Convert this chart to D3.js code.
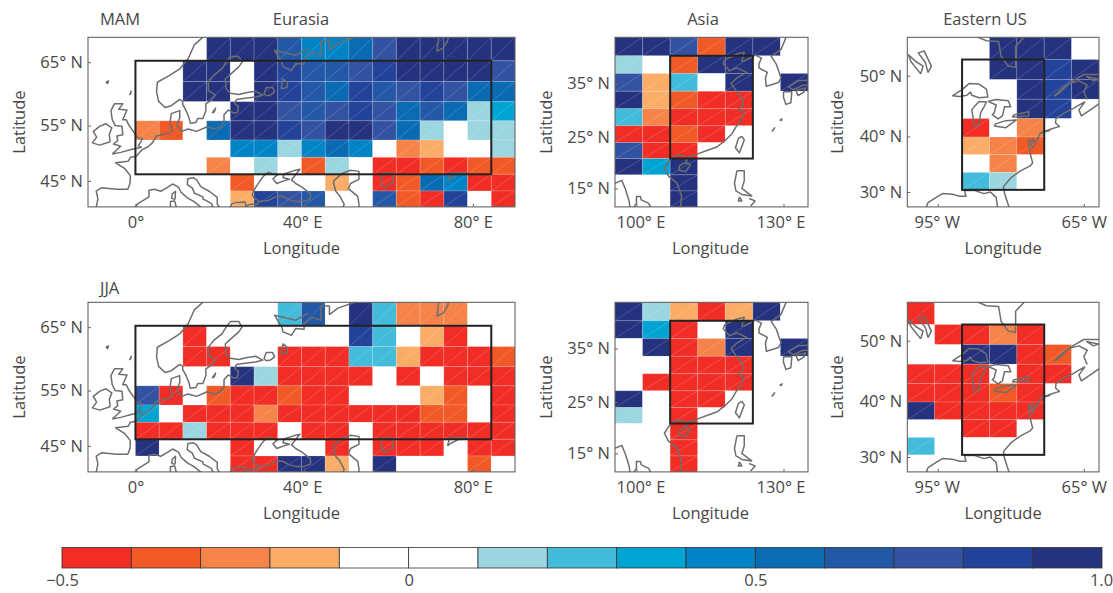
<!DOCTYPE html>
<html>
<head>
<meta charset="utf-8">
<script src="https://cdnjs.cloudflare.com/ajax/libs/d3/7.8.5/d3.min.js"></script>
<style>
  html, body { margin: 0; padding: 0; background: #fff; }
  text { font-family: "Open Sans", sans-serif; font-weight: 400; fill: #484848; font-size: 16.5px; }
  .tick line { stroke: #666; }
  .coast { fill: none; stroke: #6e6e6e; stroke-width: 1.5; stroke-linejoin: round; }
  .box { fill: none; stroke: #222; stroke-width: 2; }
  .frame { fill: none; stroke: #555; stroke-width: 1; }
  .sheen { fill: none; stroke: #fff; stroke-opacity: 0.24; stroke-width: 0.7; }
</style>
</head>
<body>
<div id="chart"></div>
<script>
// colour bins, one per 0.1 from -0.5 to 1.0
var binEdges = [-0.4, -0.3, -0.2, -0.1, 0, 0.1, 0.2, 0.3, 0.4, 0.5, 0.6, 0.7, 0.8, 0.9];
var binColours = ['#f12d26', '#f15a27', '#f68349', '#fbad68', '#ffffff', '#ffffff', '#9cd6e0', '#43bbda',
    '#00a4d3', '#0084c6', '#0a6bb3', '#2358a6', '#3353a2', '#23439b', '#25337f'];
var barTicks = [-0.5, 0, 0.5, 1.0];

// model grid
var lonStep = 5.625;
var latEdges = [68.5, 65.2, 62.1, 58.95, 55.8, 52.5, 49.4, 46.25, 43.05, 39.9, 36.8, 33.6, 30.4, 27.2, 24, 20.9, 17.7, 14.5, 11.3];

// rows run north to south, columns west to east
var eurasiaMam = [
    [0, 0, 0, 0, 0, .95, .95, .95, .65, .45, .45, .55, .75, .95, .95, .95, .95, .95],
    [0, 0, 0, 0, .95, .95, 0, .95, .85, .65, .65, .75, .85, .95, .95, .95, .95, .75],
    [0, 0, 0, 0, .95, .95, 0, .95, .85, .65, .55, .85, .65, .75, .85, .75, .55, .55],
    [0, 0, 0, 0, 0, 0, .95, .95, .75, .65, .75, .85, .75, .55, .65, .55, .15, .35],
    [0, 0, -.25, -.35, 0, .55, .95, .95, .85, .75, .95, .95, .75, .55, .15, 0, .15, .15],
    [0, 0, 0, 0, 0, 0, .45, .45, .15, .45, .55, .45, 0, -.25, -.15, 0, 0, .15],
    [0, 0, 0, 0, 0, -.25, 0, .15, 0, -.35, .15, 0, -.45, -.45, -.35, -.45, -.35, -.35],
    [0, 0, 0, 0, 0, 0, -.35, 0, 0, 0, -.15, 0, -.45, -.35, .55, .45, -.45, -.45],
    [0, 0, 0, 0, 0, 0, -.15, .85, .75, .65, 0, 0, .65, -.35, -.45, .85, 0, -.45]
];
var eurasiaJja = [
    [0, 0, 0, 0, 0, 0, 0, 0, .25, .65, 0, .95, .25, -.25, -.25, -.25, 0, 0],
    [0, 0, 0, 0, -.45, 0, 0, 0, 0, 0, 0, .85, .25, 0, -.15, -.45, 0, 0],
    [0, 0, 0, 0, -.45, -.45, 0, 0, -.45, -.45, -.45, .25, .25, -.15, -.45, -.45, -.45, -.35],
    [0, 0, 0, 0, 0, 0, .95, .15, -.45, -.45, -.45, -.45, 0, -.45, 0, -.45, -.45, -.45],
    [0, 0, .75, -.45, 0, -.35, -.45, -.45, -.35, -.45, -.45, 0, 0, 0, -.15, -.35, 0, -.45],
    [0, 0, .35, 0, -.45, -.45, -.45, -.25, -.45, -.45, -.45, -.45, -.45, -.45, -.35, -.35, 0, -.45],
    [0, 0, -.45, -.45, .15, -.45, -.45, -.45, 0, -.45, -.45, 0, -.45, -.45, -.45, -.45, -.45, -.45],
    [0, 0, .95, 0, 0, 0, -.45, 0, 0, 0, -.45, 0, -.45, -.45, -.45, 0, -.45, -.45],
    [0, 0, 0, 0, 0, 0, -.45, -.45, .95, .95, -.15, 0, .95, 0, 0, 0, -.35, 0]
];
var asiaMam = [
    [.95, .95, .75, -.35, .95, .95, 0],
    [.15, 0, -.35, .95, .95, 0, 0],
    [.75, -.15, .25, 0, .95, 0, .95],
    [.95, -.15, -.35, -.45, -.45, 0, 0],
    [.25, -.25, -.45, -.45, -.45, 0, 0],
    [-.45, -.45, -.35, -.45, 0, 0, 0],
    [.75, -.45, -.45, 0, 0, 0, 0],
    [.95, .35, .95, 0, 0, 0, 0],
    [0, 0, .95, 0, 0, 0, 0],
    [0, 0, .95, 0, 0, 0, 0]
];
var asiaJja = [
    [.95, .15, -.15, -.45, -.15, .95, 0],
    [.95, .35, -.45, 0, .95, 0, 0],
    [0, .95, -.45, -.25, .95, 0, .95],
    [0, 0, -.45, -.45, -.45, 0, 0],
    [0, -.45, -.45, -.45, -.45, 0, 0],
    [.95, 0, -.45, -.45, 0, 0, 0],
    [.15, 0, -.45, 0, 0, 0, 0],
    [0, 0, -.45, 0, 0, 0, 0],
    [0, 0, -.45, 0, 0, 0, 0],
    [0, 0, -.45, 0, 0, 0, 0]
];
var usMam = [
    [0, 0, 0, .95, .95, .95, 0],
    [0, 0, 0, .95, .95, .85, .95],
    [0, 0, 0, 0, .95, .85, .95],
    [0, 0, 0, 0, .95, .85, 0],
    [0, 0, -.45, 0, -.25, 0, 0],
    [0, 0, -.15, -.25, -.35, 0, 0],
    [0, 0, 0, -.25, 0, 0, 0],
    [0, 0, .25, .15, 0, 0, 0],
    [0, 0, 0, 0, 0, 0, 0]
];
var usJja = [
    [-.45, 0, 0, 0, 0, 0, 0],
    [0, -.45, -.45, -.25, -.45, 0, 0],
    [0, 0, .95, .95, -.45, -.35, 0],
    [-.45, -.45, -.45, 0, -.45, -.45, 0],
    [-.45, -.45, -.45, -.35, -.45, 0, 0],
    [.95, -.45, -.45, -.45, -.45, 0, 0],
    [0, 0, -.45, -.45, 0, 0, 0],
    [.25, 0, 0, 0, 0, 0, 0],
    [0, 0, 0, 0, 0, 0, 0]
];

// coastlines, [lon, lat]
var eurasiaCoast = [
    [[17,69],[14,67.5],[12.5,65.5],[10.5,64],[8,63],[5.2,62],[5,60.5],[5.5,59],[7,58],[8.5,58.3],[10.5,59.3],[11.2,59],[11.2,58.5],[12,57.5],[12.7,56.3],[13,55.4],[14.3,55.5],[14.8,56.2],[16,56.2],[16.7,57.5],[16.7,58.6],[18,59.2],[19,60],[17.3,60.7],[17.3,62],[18.5,63],[20.5,64],[21.5,65],[22.5,65.8],[24.5,65.8],[25.3,65],[24.5,64.3],[22.5,63.2],[21.3,62.5],[21.5,61],[22.5,60.3],[24.5,60.1],[26.5,60.4],[28.5,60.6],[30.2,60],[28.5,59.7],[26,59.5],[24,59.3],[23.5,58.7],[24.4,58.2],[24.2,57.2],[23.2,57.1],[22,57.6],[21,56.8],[21,55.5],[20,54.7],[18.7,54.4],[17,54.8],[14.5,54],[12.5,54.4],[11,54],[10.5,54.5],[9.8,55],[10.5,56.3],[10.5,57.5],[8.5,57],[8.2,55.5],[8.8,54],[7,53.5],[5,53.2],[4,52],[3,51.3],[1.6,50.8],[0.2,49.6],[-1.2,49.4],[-1.7,48.7],[-4.7,48.4],[-2.5,47.3],[-1.2,46],[-1.3,44.5],[-1.8,43.4],[-4.5,43.4],[-8,43.7],[-9.3,43],[-8.9,41.5],[-9.5,39]],
    [[-0.3,39.5],[0.5,40.5],[3.2,41.9],[3.2,43.2],[4.5,43.4],[6,43],[7.5,43.7],[8.8,44.4],[10.2,43.8],[10.8,42.8],[12.3,41.7],[13.8,41],[15,40.2],[16,39.5]],
    [[18.4,39.8],[18,40.6],[16,41.5],[16,41.9],[14,42.6],[13.5,43.6],[12.3,44.3],[12.4,45.4],[13.7,45.6],[14.5,45.2],[15.5,43.9],[17.5,43],[19.4,41.8],[19.4,40.5],[20,39.7]],
    [[22.5,39.8],[22.8,40.5],[24,40.8],[26,40.9],[26.2,40],[27,40.4],[29,40.5],[29,41],[31.5,41.2],[33.5,42],[35,42],[36.5,41.3],[38,41],[40,41],[41.5,41.5],[41.5,42.5],[39.5,43.8],[38,44.5],[37,45.2],[38,46.2],[39,47.2],[37.5,46.9],[35.2,46.3],[35,45.6],[36.5,45.3],[35.5,45.1],[33.5,44.5],[32.6,45.4],[33.6,46.1],[31.5,46.6],[30.5,46],[29.7,45.2],[28.7,44],[28,43],[27.7,42.4],[28.2,41.6],[29,41.2]],
    [[53,39.5],[53,40.5],[52.7,42],[50.5,43.5],[51,44.5],[53,45.3],[53,46.8],[51,47],[49,46.4],[47,45],[47,44.5],[47.5,43],[48.5,42],[49.5,40.4],[49,39.5]],
    [[58.5,46.5],[61,46.5],[61,44.7],[59,43.7],[58.3,44.5],[58.5,46.5]],
    [[74,45],[74.5,46.5],[77,46.6],[79,46.4],[76.5,46.2],[74.8,45.5],[74,45]],
    [[41,67],[38,66],[33,66.7],[34.7,65],[35,64.3],[37,63.8],[38,64.8],[40,64.7],[40,65.5],[42,66.4],[44,66],[44,68],[46,68],[46,66.8],[48,67.7],[53,68.7]],
    [[72,69],[71.5,66.6],[73,67],[74,68],[74.5,69]],
    [[31,59.9],[30.5,60.2],[31,61.2],[32.5,61.2],[33,60.5],[32,60],[31,59.9]],
    [[34.5,61],[35,62.5],[36,62],[36,61.2],[34.5,61]],
    [[-5.5,50],[-3.5,50.3],[-1,50.8],[1.4,51.2],[0.7,51.5],[1.7,52.7],[0.3,53],[-0.2,53.7],[-1.5,55],[-2.2,56],[-3,56],[-2,57.6],[-4,57.7],[-3,58.6],[-5,58.6],[-5.8,57.5],[-5.5,56],[-4.8,55],[-3.2,54.9],[-3,53.4],[-4.4,53.2],[-4.2,52.4],[-5.2,51.8],[-3.5,51.4],[-5.5,50]],
    [[-6,52.2],[-6.2,53.5],[-5.6,54.6],[-7,55.3],[-8.4,54.9],[-10,54],[-9.2,53],[-10.2,52],[-8.5,51.6],[-6,52.2]],
    [[-7,62],[-6.4,62.2],[-6.6,61.8],[-7,62]],
    [[-1.4,60],[-1,60.6],[-1.2,60.1]],
    [[9.4,41.4],[9.5,43],[8.7,42.4],[8.6,41.6],[9.4,41.4]],
    [[8.3,39.8],[8.3,41],[9.3,41.1],[9.7,39.8]],
    [[18.2,57.1],[19,57.9],[18.7,57.3],[18.2,57.1]]
];
var asiaCoast = [
    [[130.5,43],[129.5,41],[127.5,39.8],[128.5,38.5],[129.5,36],[129,35.2],[126.5,34.5],[126.3,36],[126.7,37],[125,37.8],[125,38.5],[125.5,39.5],[124.3,40],[122,39],[121.5,39],[122,40.5],[120.5,40.2],[118,39.2],[117.7,38.5],[119,37.3],[120.5,37.8],[122.5,37],[120.5,36],[119.3,35],[120.5,33.5],[121.8,32],[121.7,31],[120.8,30.3],[122,29.8],[121.5,28.5],[120.3,27],[119.5,25.7],[118,24.3],[116.5,23.2],[114.5,22.5],[112.5,21.8],[110.5,21.2],[110.2,20.3],[109.7,21.5],[108,21.5],[106.7,20.5],[105.7,19],[106.5,17.5],[108.3,16],[109.2,13.5],[109,11.3]],
    [[121.5,25.2],[122,24.5],[121,22],[120.2,23],[120.8,24.8],[121.5,25.2]],
    [[110.5,20],[111,19.6],[110,18.3],[108.7,18.6],[108.8,19.5],[109.7,20],[110.5,20]],
    [[120.5,18.5],[122,18.5],[122,16.5],[121.5,15],[123.5,13.5],[121.5,13.8],[120.3,14.5],[120,16],[120.5,18.5]],
    [[121,13.3],[121.5,12.5],[120.8,12.5],[121,13.3]],
    [[123,13],[124.2,12.5],[123.3,11.5]],
    [[95.6,16],[97,16.6],[97.7,15],[98.5,12.5],[98.7,11]],
    [[103,11],[102.5,12],[101,12.7],[100.8,13.4],[100,13.4],[100,12],[99.3,11]],
    [[135.5,35.6],[133,35.5],[131,34.4],[132,33.9],[134,34.7],[135.5,34.7]],
    [[130,33.5],[131.7,33.5],[131.5,31.5],[130.5,31.2],[130,32.5],[130,33.5]],
    [[132.5,33.8],[134.5,34.2],[134.2,33.5],[133,32.8],[132.5,33.8]],
    [[127.6,26.1],[128.2,26.8],[127.9,26.4],[127.6,26.1]],
    [[129.2,28.2],[129.7,28.5],[129.5,28.1]]
];
var usCoast = [
    [[-88,56.2],[-85,55.3],[-82.5,55.2],[-82,53],[-80.5,51.5],[-79,51.3],[-79,53],[-79,54.5],[-77,56]],
    [[-97,50.5],[-96.3,51.5],[-97.8,53.8],[-99,53.5],[-97.5,52],[-97,50.5]],
    [[-98.5,50.3],[-98,51.5],[-99.5,52.2],[-101,53.2],[-100.5,52.2],[-98.5,50.3]],
    [[-92,46.8],[-90,47.8],[-88.5,48.8],[-86.5,48.7],[-85,47.9],[-84.7,46.6],[-86.5,46.5],[-88,46.9],[-88.3,47.4],[-89,46.9],[-90.5,46.7],[-92,46.8]],
    [[-87.5,41.7],[-86.5,42],[-86.2,44],[-85.5,45],[-85,45.8],[-86.5,45.9],[-87.5,45],[-88,44.5],[-87.7,43],[-87.5,41.7]],
    [[-84.7,45.9],[-83,45.3],[-83.4,44],[-83.8,43.7],[-82.6,43],[-81.7,43.5],[-81.3,45],[-80,45],[-80.5,46],[-83,46.2],[-84.7,45.9]],
    [[-83.4,41.8],[-81,41.5],[-78.9,42.8],[-81,42.7],[-83,42.2],[-83.4,41.8]],
    [[-79.7,43.3],[-76.3,43.5],[-76.3,44.2],[-79.3,43.7],[-79.7,43.3]],
    [[-97.4,27],[-97,28],[-95,29.2],[-94,29.7],[-92,29.6],[-90.5,29.2],[-89.2,29.2],[-89.5,30.3],[-87.5,30.3],[-85.5,29.7],[-84.2,30],[-83,29],[-82.7,27]],
    [[-80.3,27],[-81.3,29.8],[-81.5,31],[-80,32.6],[-78,33.9],[-76,34.8],[-75.5,35.3],[-76,37],[-76.4,39.2],[-76,39.5],[-75.6,38],[-75.1,38.5],[-75.5,39.5],[-74.8,39],[-74,40.5],[-72,41.2],[-70.5,41.6],[-70,41.7],[-70.8,42.3],[-70.7,43.1],[-69,44],[-67,44.8],[-66.2,45.2],[-64.8,45.8],[-66,44.5],[-65.5,43.5],[-63.5,44.6],[-61.9,45.5]],
    [[-74,40.6],[-72,41],[-73.5,40.9]],
    [[-64.3,46.2],[-65,47.5],[-64.3,48.5],[-66,49.2],[-68,48.8],[-70,47.3],[-71,46.8],[-69,48.3],[-67,49.3],[-65,50.2],[-61.9,50.2]],
    [[-64.5,49.9],[-62,49.5],[-63,49.2],[-64.5,49.9]]
];

var width = 1113, height = 593;

var colour = d3.scaleThreshold().domain(binEdges).range(binColours);

// Miller projection, the maps are drawn on it
function miller(lat) {
    return 1.25 * Math.log(Math.tan(Math.PI / 4 + 0.4 * lat * Math.PI / 180));
}

var svg = d3.select('#chart').append('svg')
    .attr('width', width)
    .attr('height', height);

var defs = svg.append('defs');
var clipCount = 0;

function mapPanel(o) {
    var g = svg.append('g');
    var clipId = 'clip' + (clipCount++);

    var x = d3.scaleLinear().domain(o.lon).range([o.left, o.left + o.w]);
    var yM = d3.scaleLinear()
        .domain([miller(o.lat[0]), miller(o.lat[1])])
        .range([o.top + o.h, o.top]);
    var y = function(lat) { return yM(miller(lat)); };

    defs.append('clipPath').attr('id', clipId).append('rect')
        .attr('x', o.left).attr('y', o.top).attr('width', o.w).attr('height', o.h);

    var body = g.append('g').attr('clip-path', 'url(#' + clipId + ')');

    // grid cells
    o.values.forEach(function(row, r) {
        var top = latEdges[o.firstRow + r],
            bottom = latEdges[o.firstRow + r + 1];
        row.forEach(function(v, c) {
            var x0 = x(o.lon[0] + c * lonStep),
                x1 = x(o.lon[0] + (c + 1) * lonStep);
            body.append('rect')
                .attr('x', x0).attr('y', y(top))
                .attr('width', x1 - x0).attr('height', y(bottom) - y(top))
                .attr('fill', colour(v));
            if (colour(v) !== '#ffffff') {
                body.append('path').attr('class', 'sheen')
                    .attr('d', 'M' + x0 + ',' + y(bottom) + 'L' + x0 + ',' + y(top) + 'L' + x1 + ',' + y(top)
                        + 'L' + x1 + ',' + y(bottom) + 'L' + x0 + ',' + y(bottom) + 'L' + x1 + ',' + y(top));
            }
        });
    });

    var line = d3.line().x(function(d) { return x(d[0]); }).y(function(d) { return y(d[1]); });
    body.selectAll('path.coast')
        .data(o.coast)
        .enter().append('path')
        .attr('class', 'coast')
        .attr('d', line);

    g.append('rect').attr('class', 'frame')
        .attr('x', o.left).attr('y', o.top).attr('width', o.w).attr('height', o.h);

    // the averaging region
    g.append('rect').attr('class', 'box')
        .attr('x', x(o.box[0])).attr('y', y(o.box[3]))
        .attr('width', x(o.box[1]) - x(o.box[0]))
        .attr('height', y(o.box[2]) - y(o.box[3]));

    // axes
    var xAxis = d3.axisBottom(x)
        .tickValues(o.lonTicks)
        .tickSize(-3)
        .tickFormat(function(d) {
            if (d === 0) return '0°';
            return Math.abs(d) + (d < 0 ? '° W' : '° E');
        });
    var gx = g.append('g').attr('transform', 'translate(0,' + (o.top + o.h) + ')').call(xAxis);
    gx.select('.domain').remove();
    gx.selectAll('text').attr('y', 9).attr('dx', function(d, i) { return o.lonNudge[i]; });

    var yAxis = d3.axisLeft(yM)
        .tickValues(o.latTicks.map(miller))
        .tickSize(-3)
        .tickFormat(function(d, i) { return o.latTicks[i] + '° N'; });
    var gy = g.append('g').attr('transform', 'translate(' + o.left + ',0)').call(yAxis);
    gy.select('.domain').remove();
    gy.selectAll('text').attr('x', -5);

    g.append('text')
        .attr('x', o.left + o.w / 2 + (o.labelNudge || 0))
        .attr('y', o.top + o.h + 47)
        .attr('text-anchor', 'middle')
        .text('Longitude');

    g.append('text')
        .attr('transform', 'translate(' + o.latLabelX + ',' + (o.top + o.h / 2) + ') rotate(-90)')
        .attr('text-anchor', 'middle')
        .text('Latitude');

    if (o.title) {
        g.append('text').attr('x', o.titleX).attr('y', o.top - 12).attr('text-anchor', 'middle').text(o.title);
    }
    if (o.season) {
        g.append('text').attr('x', o.left + 12).attr('y', o.top - o.seasonLift).text(o.season);
    }
}

var rowTops = [37.3, 302.3];
var seasons = ['MAM', 'JJA'];
var seasonLifts = [12, 8];
[[eurasiaMam, asiaMam, usMam], [eurasiaJja, asiaJja, usJja]].forEach(function(vals, i) {
    mapPanel({
        left: 88, top: rowTops[i], w: 427, h: 169.6,
        lon: [-11.25, 90], lat: [39.9, 68.5], firstRow: 0,
        values: vals[0], coast: eurasiaCoast, box: [0, 84.375, 46.25, 65.2],
        lonTicks: [0, 40, 80], lonNudge: [0, -2, 0], latTicks: [65, 55, 45],
        latLabelX: 25, title: i === 0 ? 'Eurasia' : null, titleX: 301,
        season: seasons[i], seasonLift: seasonLifts[i]
    });
    mapPanel({
        left: 615, top: rowTops[i], w: 193, h: 169.6,
        lon: [95.625, 135], lat: [11.3, 43.05], firstRow: 8,
        values: vals[1], coast: asiaCoast, box: [106.875, 123.75, 20.9, 39.9],
        lonTicks: [100, 130], lonNudge: [4, -3], latTicks: [35, 25, 15],
        latLabelX: 552, title: i === 0 ? 'Asia' : null, titleX: 703, labelNudge: -1
    });
    mapPanel({
        left: 907.3, top: rowTops[i], w: 191.7, h: 169.6,
        lon: [-101.25, -61.875], lat: [27.2, 55.8], firstRow: 4,
        values: vals[2], coast: usCoast, box: [-90, -73.125, 30.4, 52.5],
        lonTicks: [-95, -65], lonNudge: [-1, 0], latTicks: [50, 40, 30],
        latLabelX: 843, title: i === 0 ? 'Eastern US' : null, titleX: 985, labelNudge: 0
    });
});

// colour bar
var barX = d3.scaleLinear().domain([-0.5, 1.0]).range([62, 1102]);
var bar = svg.append('g');
var barEdges = [-0.5].concat(binEdges);
bar.selectAll('rect')
    .data(binColours)
    .enter().append('rect')
    .attr('x', function(d, i) { return barX(barEdges[i]); })
    .attr('y', 547.5)
    .attr('width', function(d, i) { return barX(barEdges[i] + 0.1) - barX(barEdges[i]); })
    .attr('height', 20.5)
    .attr('fill', function(d) { return d; })
    .attr('stroke', '#333')
    .attr('stroke-width', 0.8);

var barAxis = d3.axisBottom(barX)
    .tickValues(barTicks)
    .tickSize(0)
    .tickFormat(function(d) {
        if (d === 0) return '0';
        return (d < 0 ? '−' : '') + Math.abs(d).toFixed(1);
    });
var gb = svg.append('g').attr('transform', 'translate(0,568)').call(barAxis);
gb.select('.domain').remove();
gb.selectAll('text').attr('y', 6).attr('dx', function(d) { return d === 1 ? -1 : 0; });
</script>
</body>
</html>
